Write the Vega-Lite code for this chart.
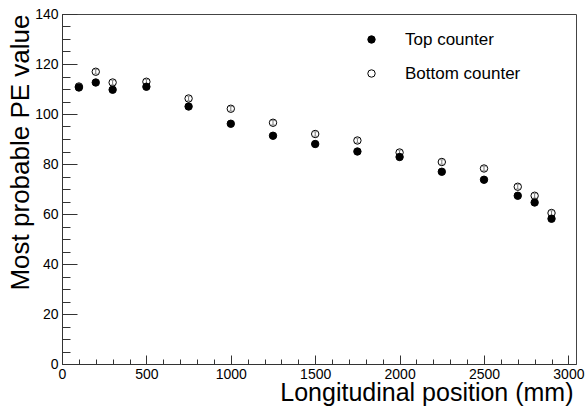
{
  "$schema": "https://vega.github.io/schema/vega-lite/v6.json",
  "width": 514,
  "height": 350,
  "autosize": {"type": "none"},
  "padding": {"left": 62, "top": 14, "right": 11, "bottom": 42},
  "background": "white",
  "config": {
    "font": "Liberation Sans",
    "view": {"stroke": "#444", "strokeWidth": 1},
    "axis": {"grid": false, "labelColor": "black", "titleColor": "black", "domainColor": "#333", "tickColor": "#333", "labelFont": "Liberation Sans", "titleFont": "Liberation Sans"}
  },
  "data": {
    "values": [
      {"x": 100, "y": 111.0, "err": 0.9, "counter": "Bottom counter"},
      {"x": 200, "y": 116.9, "err": 0.9, "counter": "Bottom counter"},
      {"x": 300, "y": 112.6, "err": 0.9, "counter": "Bottom counter"},
      {"x": 500, "y": 112.9, "err": 0.9, "counter": "Bottom counter"},
      {"x": 750, "y": 106.2, "err": 0.9, "counter": "Bottom counter"},
      {"x": 1000, "y": 102.1, "err": 0.9, "counter": "Bottom counter"},
      {"x": 1250, "y": 96.5, "err": 0.9, "counter": "Bottom counter"},
      {"x": 1500, "y": 92.0, "err": 0.9, "counter": "Bottom counter"},
      {"x": 1750, "y": 89.4, "err": 0.9, "counter": "Bottom counter"},
      {"x": 2000, "y": 84.6, "err": 0.9, "counter": "Bottom counter"},
      {"x": 2250, "y": 80.8, "err": 0.9, "counter": "Bottom counter"},
      {"x": 2500, "y": 78.2, "err": 0.9, "counter": "Bottom counter"},
      {"x": 2700, "y": 70.9, "err": 0.9, "counter": "Bottom counter"},
      {"x": 2800, "y": 67.3, "err": 0.9, "counter": "Bottom counter"},
      {"x": 2900, "y": 60.4, "err": 0.9, "counter": "Bottom counter"},
      {"x": 100, "y": 110.6, "err": 0.9, "counter": "Top counter"},
      {"x": 200, "y": 112.6, "err": 0.9, "counter": "Top counter"},
      {"x": 300, "y": 109.7, "err": 0.9, "counter": "Top counter"},
      {"x": 500, "y": 110.9, "err": 0.9, "counter": "Top counter"},
      {"x": 750, "y": 103.0, "err": 0.9, "counter": "Top counter"},
      {"x": 1000, "y": 96.1, "err": 0.9, "counter": "Top counter"},
      {"x": 1250, "y": 91.3, "err": 0.9, "counter": "Top counter"},
      {"x": 1500, "y": 88.0, "err": 0.9, "counter": "Top counter"},
      {"x": 1750, "y": 85.0, "err": 0.9, "counter": "Top counter"},
      {"x": 2000, "y": 82.8, "err": 0.9, "counter": "Top counter"},
      {"x": 2250, "y": 76.9, "err": 0.9, "counter": "Top counter"},
      {"x": 2500, "y": 73.7, "err": 0.9, "counter": "Top counter"},
      {"x": 2700, "y": 67.3, "err": 0.9, "counter": "Top counter"},
      {"x": 2800, "y": 64.6, "err": 0.9, "counter": "Top counter"},
      {"x": 2900, "y": 58.1, "err": 0.9, "counter": "Top counter"}
    ]
  },
  "resolve": {"axis": {"x": "independent", "y": "independent"}},
  "layer": [
    {
      "mark": {"type": "point", "opacity": 0},
      "encoding": {
        "x": {"field": "x", "type": "quantitative", "scale": {"domain": [0, 3045], "nice": false, "zero": false},
          "axis": {"orient": "bottom", "values": [0,100,200,300,400,500,600,700,800,900,1000,1100,1200,1300,1400,1500,1600,1700,1800,1900,2000,2100,2200,2300,2400,2500,2600,2700,2800,2900,3000], "labels": false, "domain": false, "title": null, "tickSize": -5, "tickWidth": 1}},
        "y": {"field": "y", "type": "quantitative", "scale": {"domain": [0, 140], "nice": false, "zero": false},
          "axis": {"orient": "left", "values": [0,5,10,15,20,25,30,35,40,45,50,55,60,65,70,75,80,85,90,95,100,105,110,115,120,125,130,135,140], "labels": false, "domain": false, "title": null, "tickSize": -8, "tickWidth": 1}}
      }
    },
    {
      "transform": [{"filter": "datum.counter === 'Bottom counter'"}],
      "mark": {"type": "errorbar", "ticks": {"size": 4, "color": "#777"}, "rule": {"color": "#777"}},
      "encoding": {
        "x": {"field": "x", "type": "quantitative", "axis": null},
        "y": {"field": "y", "type": "quantitative", "axis": null},
        "yError": {"field": "err"}
      }
    },
    {
      "mark": {"type": "point", "shape": "circle", "filled": true, "size": 55, "stroke": "black", "strokeWidth": 1, "opacity": 1},
      "encoding": {
        "x": {"field": "x", "type": "quantitative",
          "axis": {"orient": "bottom", "values": [0,500,1000,1500,2000,2500,3000], "format": "d", "tickSize": -9, "tickWidth": 1, "labelPadding": 12, "labelFontSize": 14, "labelFlush": false, "labelOverlap": false,
            "title": "Longitudinal position (mm)", "titleFontSize": 25, "titleFontWeight": "normal", "titleX": 511, "titleY": 36, "titleAlign": "right", "titleBaseline": "alphabetic", "titleAnchor": null}},
        "y": {"field": "y", "type": "quantitative",
          "axis": {"orient": "left", "values": [0,20,40,60,80,100,120,140], "format": "d", "tickSize": -15, "tickWidth": 1, "labelPadding": 19, "labelFontSize": 14, "labelFlush": false, "labelOverlap": false,
            "title": "Most probable PE value", "titleFontSize": 26, "titleFontWeight": "normal", "titleAngle": 270, "titleX": -33.5, "titleY": 0, "titleAlign": "right", "titleBaseline": "alphabetic", "titleAnchor": null}},
        "fill": {"field": "counter", "type": "nominal",
          "scale": {"domain": ["Top counter", "Bottom counter"], "range": ["black", "transparent"]},
          "legend": {"title": null, "orient": "none", "legendX": 301, "legendY": 17, "padding": 0, "symbolType": "circle", "symbolSize": 55, "symbolStrokeColor": "black", "symbolStrokeWidth": 1, "labelFontSize": 17, "labelFont": "Liberation Sans", "labelColor": "black", "labelOffset": 25, "rowPadding": 16}}
      }
    }
  ]
}
